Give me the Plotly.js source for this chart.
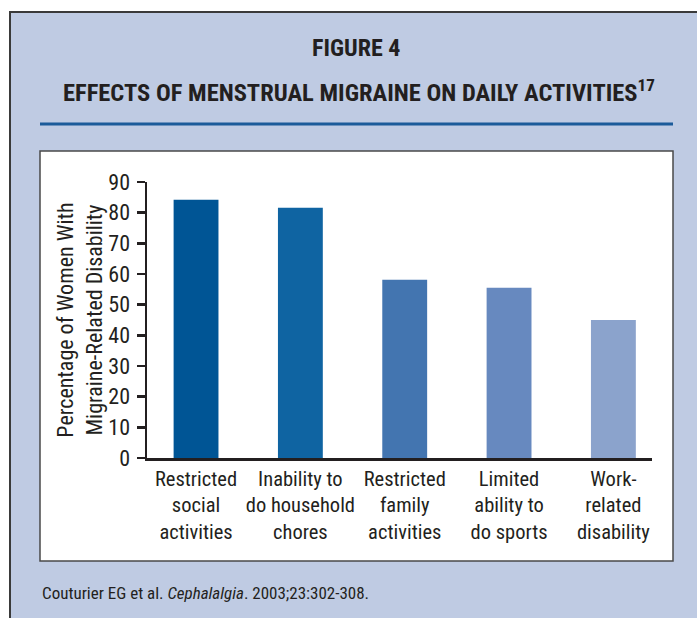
<!DOCTYPE html>
<html>
<head>
<meta charset="utf-8">
<script src="https://cdn.plot.ly/plotly-3.0.1.min.js"></script>
<style>html,body{margin:0;padding:0;background:#fff;}#chart{width:697px;height:618px;}</style>
</head>
<body>
<div id="chart"></div>
<script>
// ---- data ----
const categories = [
  "Restricted<br>social<br>activities",
  "Inability to<br>do household<br>chores",
  "Restricted<br>family<br>activities",
  "Limited<br>ability to<br>do sports",
  "Work-<br>related<br>disability"
];
const values = [84.2, 81.6, 58.1, 55.5, 45.0];
const yTickVals = [0, 10, 20, 30, 40, 50, 60, 70, 80, 90];
const figureLabel = "FIGURE 4";
const figureTitle = "EFFECTS OF MENSTRUAL MIGRAINE ON DAILY ACTIVITIES<sup>17</sup>";
const yTitle = "Percentage of Women With<br>Migraine-Related Disability";
const citation = "Couturier EG et al. <i>Cephalalgia</i>. 2003;23:302-308.";

// ---- styles ----
const barColors = ["#005595", "#0f64a2", "#4375b0", "#6789bf", "#8ba3cc"];
const FONT = "Roboto Condensed, Roboto, sans-serif";
const ST = "condensed";
const INK = "#231f20";
const W = 697, H = 618;
const L = 147, R = 45, T = 182, B = 160;
const PW = W - L - R, PH = H - T - B;
const fx = x => (x - L) / PW;
const fy = y => (H - B - y) / PH;

const trace = {
  type: "bar",
  x: categories,
  y: values,
  width: 0.43,
  marker: {color: barColors, line: {width: 0}},
  hoverinfo: "skip"
};

const layout = {
  width: W, height: H,
  margin: {l: L, r: R, t: T, b: B, pad: 0},
  paper_bgcolor: "#ffffff",
  plot_bgcolor: "rgba(0,0,0,0)",
  showlegend: false,
  font: {family: FONT, color: INK, stretch: ST},
  xaxis: {
    type: "category",
    range: [-0.47, 4.37],
    showline: true, linecolor: INK, linewidth: 3,
    ticks: "", showgrid: false, zeroline: false,
    tickangle: 0,
    tickfont: {family: FONT, size: 20.5, color: INK, stretch: ST},
    ticklabelstandoff: 0,
    fixedrange: true
  },
  yaxis: {
    range: [0, 90],
    tickvals: yTickVals,
    showline: true, linecolor: INK, linewidth: 2.5,
    ticks: "outside", ticklen: 8, tickwidth: 2.5, tickcolor: INK,
    showgrid: false, zeroline: false,
    tickfont: {family: FONT, size: 22, color: INK, stretch: ST},
    ticklabelstandoff: 2,
    title: {text: yTitle, font: {family: FONT, size: 22, color: INK, stretch: ST}, standoff: 0},
    fixedrange: true
  },
  shapes: [
    {type: "rect", xref: "paper", yref: "paper", layer: "below",
     x0: fx(10), x1: fx(720), y0: fy(12), y1: fy(640),
     fillcolor: "#bfcbe3", line: {color: "#3a3a3a", width: 2}},
    {type: "line", xref: "paper", yref: "paper", layer: "below",
     x0: fx(40), x1: fx(673), y0: fy(124), y1: fy(124),
     line: {color: "#1b5b9a", width: 3}},
    {type: "rect", xref: "paper", yref: "paper", layer: "below",
     x0: fx(40), x1: fx(673), y0: fy(151), y1: fy(561),
     fillcolor: "#ffffff", line: {color: "#4a4a4a", width: 1.5}}
  ],
  annotations: [
    {xref: "paper", yref: "paper", x: fx(356), y: fy(48), xanchor: "center", yanchor: "middle",
     showarrow: false, text: figureLabel,
     font: {family: FONT, size: 24, color: INK, weight: "bold", stretch: ST}},
    {xref: "paper", yref: "paper", x: fx(359), y: fy(91), xanchor: "center", yanchor: "middle",
     showarrow: false, text: figureTitle,
     font: {family: FONT, size: 24.5, color: INK, weight: "bold", stretch: ST}},
    {xref: "paper", yref: "paper", x: fx(40), y: fy(593), xanchor: "left", yanchor: "middle",
     showarrow: false, text: citation,
     font: {family: FONT, size: 17, color: INK, stretch: ST}}
  ]
};

Plotly.newPlot("chart", [trace], layout, {displayModeBar: false, staticPlot: true});
</script>
</body>
</html>
